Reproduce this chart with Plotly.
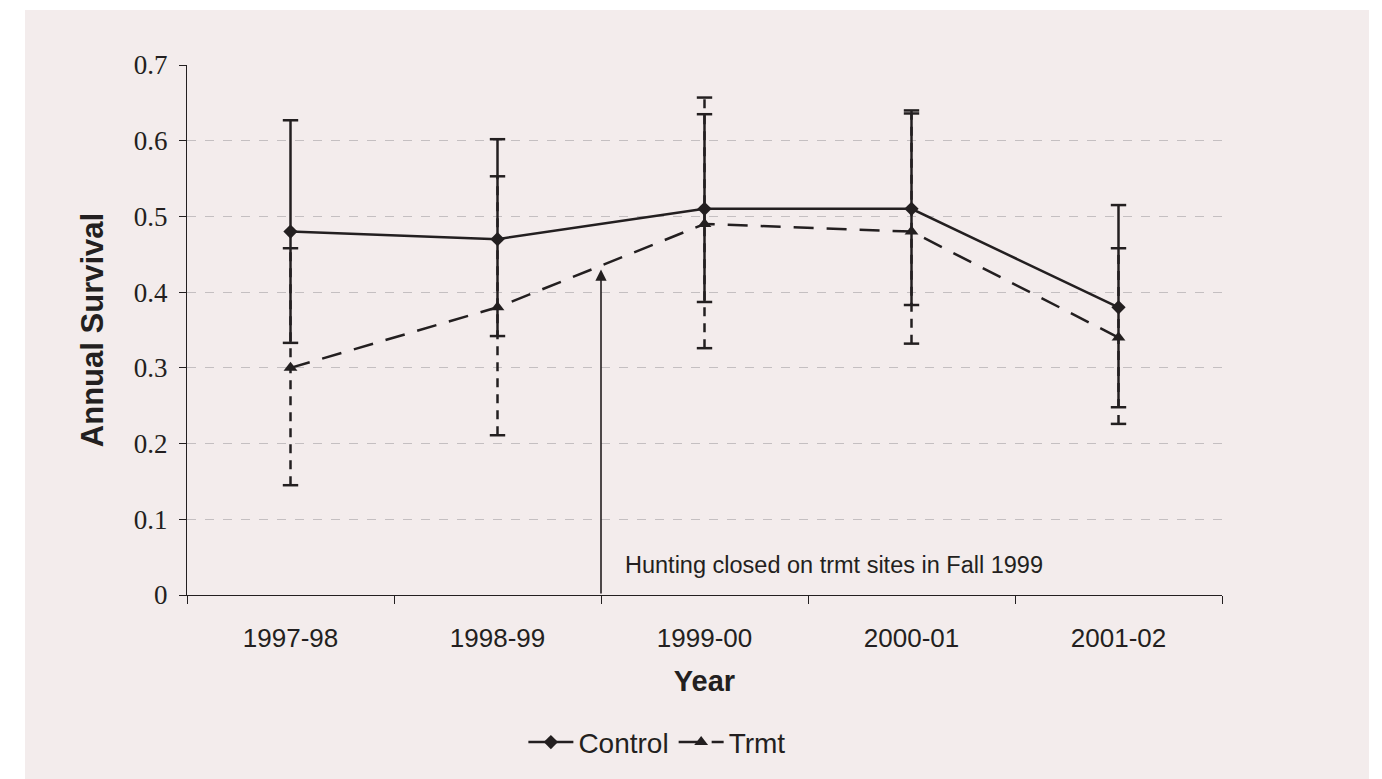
import plotly.graph_objects as go

years = ["1997-98", "1998-99", "1999-00", "2000-01", "2001-02"]

control = [0.48, 0.47, 0.51, 0.51, 0.38]
control_low = [0.333, 0.342, 0.387, 0.383, 0.248]
control_high = [0.627, 0.602, 0.635, 0.640, 0.515]

trmt = [0.30, 0.38, 0.49, 0.48, 0.34]
trmt_low = [0.145, 0.211, 0.326, 0.332, 0.226]
trmt_high = [0.458, 0.553, 0.657, 0.636, 0.458]

INK = "#231f20"
BG = "#f3ecec"


def error_segments(lows, highs):
    xs, ys = [], []
    for cat, lo, hi in zip(years, lows, highs):
        xs += [cat, cat, None]
        ys += [lo, hi, None]
    return xs, ys


fig = go.Figure()

# error bars (trmt dashed, control solid on top)
for lows, highs, dash in [
    (trmt_low, trmt_high, "9px,7px"),
    (control_low, control_high, "solid"),
]:
    xs, ys = error_segments(lows, highs)
    fig.add_trace(
        go.Scatter(
            x=xs,
            y=ys,
            mode="lines",
            line=dict(color=INK, width=2.5, dash=dash),
            showlegend=False,
            hoverinfo="skip",
        )
    )
    fig.add_trace(
        go.Scatter(
            x=years + years,
            y=lows + highs,
            mode="markers",
            marker=dict(symbol="line-ew", size=11, line=dict(color=INK, width=2.5)),
            showlegend=False,
            hoverinfo="skip",
        )
    )

fig.add_trace(
    go.Scatter(
        x=years,
        y=control,
        mode="lines+markers",
        name="Control",
        line=dict(color=INK, width=2.5),
        marker=dict(symbol="diamond", size=11, color=INK),
    )
)
fig.add_trace(
    go.Scatter(
        x=years,
        y=trmt,
        mode="lines+markers",
        name="Trmt",
        line=dict(color=INK, width=2.5, dash="20px,13px"),
        marker=dict(symbol="triangle-up", size=12, color=INK),
    )
)

# pink panel behind everything
fig.add_shape(
    type="rect",
    xref="paper",
    yref="paper",
    x0=-0.1565,
    x1=1.142,
    y0=-0.40,
    y1=1.1038,
    fillcolor=BG,
    line=dict(width=0),
    layer="below",
)

fig.add_annotation(
    x=1.5,
    y=0.43,
    ax=1.5,
    ay=0,
    xref="x",
    yref="y",
    axref="x",
    ayref="y",
    text="",
    showarrow=True,
    arrowhead=2,
    arrowsize=1.4,
    arrowwidth=1.6,
    arrowcolor=INK,
)
fig.add_annotation(
    x=1.606,
    y=0.04,
    xref="x",
    yref="y",
    text="Hunting closed on trmt sites in Fall 1999",
    showarrow=False,
    xanchor="left",
    yanchor="middle",
    font=dict(family="Liberation Sans, Arial", size=23.5, color=INK),
)

fig.update_layout(
    width=1382,
    height=779,
    margin=dict(l=179, r=168, t=57, b=192),
    paper_bgcolor="white",
    plot_bgcolor=BG,
    font=dict(family="Liberation Sans, Arial", color=INK),
    legend=dict(
        orientation="h",
        x=0.325,
        y=-0.278,
        xanchor="left",
        yanchor="middle",
        bgcolor="rgba(0,0,0,0)",
        font=dict(size=28, color=INK),
        itemwidth=45,
    ),
    xaxis=dict(
        type="category",
        range=[-0.5, 4.5],
        tickson="boundaries",
        ticks="outside",
        ticklen=8,
        tickcolor=INK,
        showline=True,
        linecolor=INK,
        linewidth=1,
        showgrid=False,
        tickfont=dict(size=26, color=INK),
        ticklabelstandoff=20,
        title=dict(text="<b>Year</b>", font=dict(size=29, color=INK), standoff=18),
    ),
    yaxis=dict(
        range=[0, 0.7],
        dtick=0.1,
        ticks="outside",
        ticklen=7,
        tickcolor=INK,
        showline=True,
        linecolor=INK,
        linewidth=1,
        showgrid=True,
        gridcolor="#c4bfc1",
        griddash="dash",
        zeroline=False,
        tickfont=dict(family="Liberation Serif, Times New Roman", size=27, color=INK),
        ticklabelstandoff=6,
        title=dict(text="<b>Annual Survival</b>", font=dict(size=31, color=INK), standoff=20),
    ),
)

fig.write_html("out.html")
